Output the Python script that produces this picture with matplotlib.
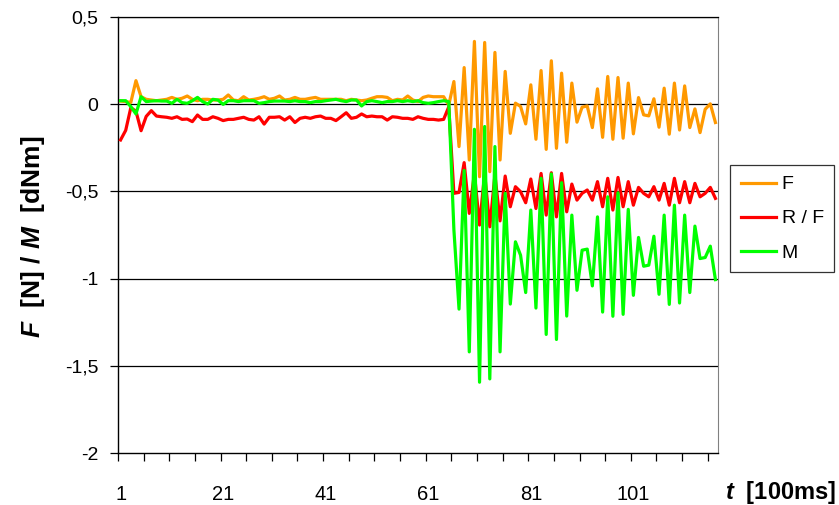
import numpy as np
import matplotlib.pyplot as plt
from matplotlib.ticker import FixedLocator, FuncFormatter

plt.rcParams['font.family'] = ['Liberation Sans', 'DejaVu Sans']
plt.rcParams['mathtext.fontset'] = 'custom'
plt.rcParams['mathtext.it'] = 'Liberation Sans:italic:bold'
plt.rcParams['mathtext.rm'] = 'Liberation Sans:bold'

# ----- Data -----
f_vals = [
    0.018, 0.015, 0.01, 0.135, 0.043, 0.028, 0.024, 0.02, 0.024, 0.028,
    0.039, 0.028, 0.034, 0.047, 0.028, 0.02, 0.028, 0.028, 0.024, 0.024,
    0.028, 0.053, 0.024, 0.02, 0.043, 0.024, 0.028, 0.034, 0.043, 0.028,
    0.034, 0.047, 0.024, 0.028, 0.039, 0.028, 0.028, 0.034, 0.039, 0.028,
    0.028, 0.028, 0.028, 0.028, 0.02, 0.028, 0.024, 0.02, 0.024, 0.034,
    0.043, 0.043, 0.039, 0.02, 0.028, 0.024, 0.047, 0.024, 0.015, 0.039,
    0.047, 0.043, 0.043, 0.043, -0.005, 0.13, -0.243, 0.21, -0.32, 0.36,
    -0.416, 0.354, -0.387, 0.297, -0.32, 0.188, -0.167, 0.006, -0.013, -0.113,
    0.111, -0.201, 0.193, -0.259, 0.249, -0.253, 0.178, -0.218, 0.121, -0.103,
    -0.017, -0.01, -0.134, 0.088, -0.19, 0.159, -0.201, 0.153, -0.195, 0.121,
    -0.17, 0.038, -0.061, -0.067, 0.031, -0.132, 0.092, -0.172, 0.121, -0.148,
    0.105, -0.134, -0.027, -0.163, -0.029, 0.002, -0.105,
]
rf_vals = [
    -0.205, -0.15, -0.02, -0.04, -0.152, -0.07, -0.037, -0.068, -0.072, -0.075,
    -0.081, -0.072, -0.087, -0.085, -0.1, -0.062, -0.087, -0.087, -0.072, -0.081,
    -0.094, -0.087, -0.087, -0.081, -0.075, -0.087, -0.091, -0.072, -0.114, -0.075,
    -0.075, -0.072, -0.091, -0.072, -0.105, -0.081, -0.075, -0.081, -0.072, -0.068,
    -0.081, -0.081, -0.094, -0.072, -0.049, -0.081, -0.075, -0.056, -0.072, -0.068,
    -0.072, -0.072, -0.091, -0.072, -0.075, -0.081, -0.081, -0.087, -0.072, -0.081,
    -0.087, -0.087, -0.091, -0.087, -0.015, -0.511, -0.506, -0.335, -0.626, -0.397,
    -0.693, -0.397, -0.703, -0.406, -0.669, -0.412, -0.588, -0.473, -0.502, -0.565,
    -0.429, -0.598, -0.397, -0.636, -0.393, -0.646, -0.397, -0.617, -0.458, -0.55,
    -0.511, -0.492, -0.55, -0.444, -0.588, -0.425, -0.607, -0.42, -0.588, -0.444,
    -0.579, -0.477, -0.511, -0.531, -0.473, -0.55, -0.454, -0.579, -0.425, -0.565,
    -0.444, -0.565, -0.454, -0.531, -0.511, -0.477, -0.54,
]
m_vals = [
    0.02, 0.02, -0.014, -0.056, 0.043, 0.015, 0.018, 0.02, 0.018, 0.018,
    0.005, 0.028, 0.009, 0.005, 0.02, 0.039, 0.015, 0.001, 0.028, 0.024,
    -0.001, 0.02, 0.02, 0.015, 0.02, 0.02, 0.02, 0.005, 0.009, 0.015,
    0.018, 0.018, 0.018, 0.015, 0.02, 0.015, 0.015, 0.009, 0.015, 0.015,
    0.02, 0.024, 0.028, 0.02, 0.015, 0.024, 0.024, -0.01, 0.015, 0.02,
    0.015, 0.009, 0.015, 0.015, 0.02, 0.015, 0.02, 0.015, 0.02, 0.009,
    0.005, 0.009, 0.015, 0.02, 0.015, -0.72, -1.175, -0.38, -1.42, -0.144,
    -1.594, -0.128, -1.575, -0.243, -1.42, -0.511, -1.146, -0.789, -0.866, -1.08,
    -0.607, -1.169, -0.425, -1.32, -0.40, -1.349, -0.45, -1.215, -0.636, -1.067,
    -0.837, -0.831, -1.042, -0.646, -1.192, -0.531, -1.216, -0.508, -1.205, -0.603,
    -1.096, -0.764, -0.929, -0.923, -0.757, -1.09, -0.636, -1.148, -0.579, -1.14,
    -0.636, -1.08, -0.699, -0.885, -0.879, -0.814, -1.006,
]
t = np.arange(1, len(f_vals) + 1)

x_labels = [1, 21, 41, 61, 81, 101]
y_ticks = [0.5, 0, -0.5, -1, -1.5, -2]

# ----- Plot -----
fig = plt.figure(figsize=(8.39, 5.05), dpi=100)
ax = fig.add_axes([118 / 839, 1 - 453 / 505, 600 / 839, 436 / 505])

for yv in y_ticks[:-1]:
    ax.axhline(yv, color="black", lw=0.9, zorder=1)

ax.plot(t, f_vals, color="#FF9900", lw=2.3, label="F", zorder=3)
ax.plot(t, rf_vals, color="#FF0000", lw=2.3, label="R / F", zorder=4)
ax.plot(t, m_vals, color="#00FF00", lw=2.3, label="M", zorder=5)

ax.set_xlim(0.5, len(t) + 0.5)
ax.set_ylim(-2, 0.5)

ax.set_yticks(y_ticks)
ax.yaxis.set_major_formatter(FuncFormatter(lambda v, p: f"{v:g}".replace(".", ",")))
ax.tick_params(axis="y", direction="out", length=6, width=0.9, labelsize=14, pad=8)

ax.xaxis.set_major_locator(FixedLocator(np.arange(0.5, len(t), 5)))
ax.xaxis.set_major_formatter(FuncFormatter(lambda v, p: ""))
ax.xaxis.set_minor_locator(FixedLocator(x_labels))
ax.xaxis.set_minor_formatter(FuncFormatter(lambda v, p: f"{int(v)}"))
ax.tick_params(axis="x", which="major", direction="out", length=6, width=0.9)
ax.tick_params(axis="x", which="minor", length=0, labelsize=14.5, pad=23)

for s in ["left", "bottom"]:
    ax.spines[s].set_color("black")
    ax.spines[s].set_linewidth(1.0)
ax.spines["right"].set_color("#808080")
ax.spines["top"].set_color("black")
ax.spines["top"].set_linewidth(0.9)

fig.text(33 / 839, 1 - 237 / 505, r"$F$  [N] / $M$  [dNm]", fontsize=19,
         fontweight="bold", rotation=90, ha="center", va="center")
fig.text(836 / 839, 1 - 492 / 505, r"$t$  [100ms]", fontsize=17,
         fontweight="bold", ha="right", va="center")

leg = ax.legend(loc="upper left", bbox_to_anchor=(730 / 839, 1 - 165 / 505),
                bbox_transform=fig.transFigure, frameon=True, fancybox=False,
                edgecolor="black", fontsize=14, handlelength=1.8,
                handletextpad=0.3, borderaxespad=0, borderpad=0.55,
                labelspacing=0.85)
leg.get_frame().set_linewidth(0.9)

fig.savefig("out.png", dpi=100)
